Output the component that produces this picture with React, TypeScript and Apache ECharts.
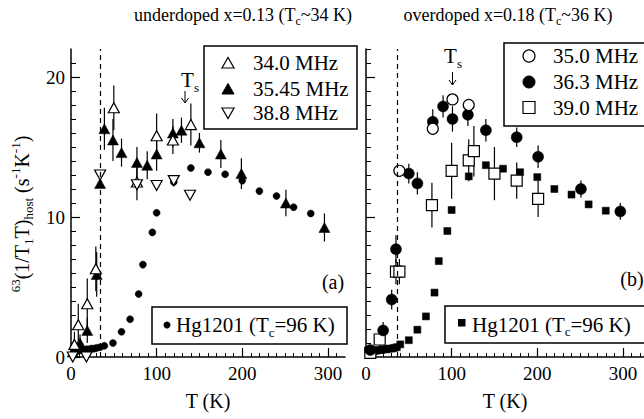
import React, { useEffect, useRef } from "react";
import * as echarts from "echarts";

const FONT = "Liberation Serif";

// ---------- Panel (a): underdoped x=0.13 ----------
// Hg1201 host reference [T, y]
const hgA: number[][] = [
  [3, 0.3], [6, 0.4], [9, 0.45], [12, 0.5], [15, 0.5], [18, 0.55], [21, 0.55], [24, 0.6],
  [27, 0.6], [30, 0.65], [34, 0.7], [39, 0.8], [49, 1.0], [59, 1.8], [69, 2.7], [79, 4.5],
  [84, 6.6], [95, 8.9], [100, 10.3], [120, 12.5], [140, 13.5], [160, 13.2], [180, 13.05],
  [200, 12.6], [220, 11.85], [240, 11.5], [260, 10.7], [280, 10.25],
];
// 34.0 MHz [T, y, err]
const a340: number[][] = [
  [4, 0.9, 0.9], [8.5, 2.3, 1.5], [19, 3.8, 1.8], [29, 6.3, 1.6], [50, 17.8, 1.6],
  [77, 12.5, 1.3], [100, 15.8, 1.6], [119, 15.5, 1.0], [140, 16.6, 1.5],
];
// 35.45 MHz [T, y, err]
const a3545: number[][] = [
  [2, 0.35, 0], [10.5, 1.0, 0.6], [19, 1.9, 0.9], [30, 5.9, 1.6], [34, 12.4, 0],
  [39, 16.3, 1.5], [49, 15.5, 1.5], [59, 14.6, 1.0], [77, 13.9, 1.1], [89, 13.7, 1.0],
  [100, 14.5, 1.2], [119, 16.0, 1.0], [129, 16.2, 0.9], [150, 15.3, 0.7], [175, 14.5, 1.0],
  [199, 13.1, 1.1], [251, 11.0, 0.95], [296, 9.25, 1.0],
];
// 38.8 MHz [T, y, err]
const a388: number[][] = [
  [2, 0.0, 0], [18, 0.0, 0], [34, 13.0, 0], [77, 12.3, 0], [100, 12.25, 0],
  [120, 12.6, 0], [139, 11.55, 0],
];

// ---------- Panel (b): overdoped x=0.18 ----------
const hgB: number[][] = [
  [3, 0.3], [6, 0.35], [9, 0.4], [12, 0.45], [15, 0.5], [18, 0.5], [21, 0.55], [24, 0.55],
  [27, 0.6], [30, 0.6], [33, 0.65], [36, 0.7], [40, 0.9], [50, 1.2], [60, 1.95], [70, 2.9],
  [80, 4.6], [85, 6.85], [95, 9.0], [100, 10.5], [120, 12.9], [140, 13.7], [160, 13.45],
  [180, 13.2], [200, 12.85], [220, 12.0], [240, 11.6], [260, 10.9], [280, 10.45],
];
// 35.0 MHz [T, y, err]
const b350: number[][] = [
  [39, 13.3, 0], [78, 16.3, 0], [101, 18.4, 0], [120, 18.0, 0],
];
// 36.3 MHz [T, y, err]
const b363: number[][] = [
  [5, 0.5, 0], [20, 1.9, 0.6], [30, 4.1, 0.7], [35, 7.7, 1.0], [50, 13.1, 0.7],
  [60, 12.4, 0.8], [78, 16.8, 0.9], [90, 17.9, 0.8], [101, 17.0, 0.9], [119, 17.3, 0.8],
  [140, 16.2, 0.8], [176, 15.7, 0.7], [201, 14.3, 0.8], [251, 12.0, 0.6], [297, 10.4, 0.6],
];
// 39.0 MHz [T, y, err]
const b390: number[][] = [
  [5, 0.3, 0], [16, 1.25, 0.6], [35, 6.1, 0.9], [39, 6.1, 0.9], [77, 10.85, 1.6],
  [100, 13.3, 2.0], [120, 14.05, 1.5], [126, 14.7, 1.8], [150, 13.1, 1.9],
  [176, 12.6, 1.3], [201, 11.3, 1.3],
];

const tcA = 34;
const tcB = 36;
const xTicksMajor = 100;
const yTicksMajor = 10;

const openStyle = { color: "#fff", borderColor: "#000", borderWidth: 1.2, opacity: 1 };
const fillStyle = { color: "#000", borderColor: "#000", borderWidth: 0.5, opacity: 1 };

function mainX(gridIndex: number, max: number) {
  return {
    type: "value", gridIndex, min: 0, max, interval: 10,
    axisLine: { show: true, onZero: false, lineStyle: { color: "#000", width: 1.5 } },
    axisTick: { show: true, inside: true, length: 4, lineStyle: { color: "#000", width: 1 } },
    axisLabel: {
      show: true, color: "#000", fontFamily: FONT, fontSize: 19, margin: 7,
      showMaxLabel: false,
      formatter: (v: number) => (Math.round(v) % xTicksMajor === 0 ? String(Math.round(v)) : ""),
    },
    splitLine: { show: false },
    name: "T (K)", nameLocation: "middle", nameGap: 34,
    nameTextStyle: { color: "#000", fontFamily: FONT, fontSize: 20 },
  };
}
function mainY(gridIndex: number, showLabel: boolean) {
  return {
    type: "value", gridIndex, min: 0, max: 22, interval: 1,
    axisLine: { show: true, onZero: false, lineStyle: { color: "#000", width: 1.5 } },
    axisTick: { show: true, inside: true, length: 5, lineStyle: { color: "#000", width: 1 } },
    axisLabel: {
      show: showLabel, color: "#000", fontFamily: FONT, fontSize: 19, margin: 6,
      showMaxLabel: false,
      formatter: (v: number) => (Math.round(v) % yTicksMajor === 0 ? String(Math.round(v)) : ""),
    },
    splitLine: { show: false },
  };
}
function majX(gridIndex: number) {
  return {
    type: "value", gridIndex, min: 0, max: 300, interval: 100,
    axisLine: { show: false }, axisLabel: { show: false }, splitLine: { show: false },
    axisTick: { show: true, inside: true, length: 9, lineStyle: { color: "#000", width: 1.2 } },
  };
}
function majY(gridIndex: number) {
  return {
    type: "value", gridIndex, min: 0, max: 20, interval: 10,
    axisLine: { show: false }, axisLabel: { show: false }, splitLine: { show: false },
    axisTick: { show: true, inside: true, length: 9, lineStyle: { color: "#000", width: 1.2 } },
  };
}

function scatter(name: string, data: number[][], idx: number, symbol: string, size: any, style: any, rotate = 0) {
  return {
    type: "scatter", name, xAxisIndex: idx, yAxisIndex: idx, silent: true, z: 3,
    data: data.map((d) => [d[0], d[1]]),
    symbol, symbolSize: size, symbolRotate: rotate, itemStyle: style,
  };
}
function errors(idx: number, sets: number[][][]) {
  const data: number[][] = [];
  sets.forEach((s) => s.forEach((d) => { if (d[2] > 0) data.push([d[0], d[1] - d[2], d[1] + d[2]]); }));
  return {
    type: "custom", xAxisIndex: idx, yAxisIndex: idx, silent: true, z: 2,
    data,
    encode: { x: 0, y: [1, 2] },
    renderItem: (params: any, api: any) => {
      const x = api.value(0);
      const lo = api.coord([x, api.value(1)]);
      const hi = api.coord([x, api.value(2)]);
      return {
        type: "line",
        shape: { x1: lo[0], y1: lo[1], x2: hi[0], y2: hi[1] },
        style: { stroke: "#000", lineWidth: 1.2 },
      };
    },
  };
}
function dashed(x: number) {
  return {
    silent: true, symbol: ["none", "none"], label: { show: false },
    lineStyle: { color: "#000", type: [5, 4], width: 1.2, opacity: 1 },
    data: [{ xAxis: x }],
  };
}

const richBase = (size: number, sub: number) => ({
  n: { fontFamily: FONT, fontSize: size, lineHeight: size + 6 },
  s: { fontFamily: FONT, fontSize: sub, lineHeight: sub, verticalAlign: "bottom" },
  p: { fontFamily: FONT, fontSize: sub, lineHeight: sub, verticalAlign: "top" },
});

function txt(x: number, y: number, text: string, size: number, sub: number, align = "left", extra: any = {}) {
  return {
    type: "text", x, y, z: 20, ...extra,
    style: { text, rich: richBase(size, sub), fill: "#000", align, verticalAlign: "middle", fontFamily: FONT, fontSize: size },
  };
}
const box = (x: number, y: number, w: number, h: number) => ({
  type: "rect", z: 15, shape: { x, y, width: w, height: h },
  style: { fill: "#fff", stroke: "#000", lineWidth: 1.5 },
});
const arrow = (x: number, y1: number, y2: number) => [
  { type: "line", z: 20, shape: { x1: x, y1, x2: x, y2 }, style: { stroke: "#000", lineWidth: 1 } },
  { type: "polyline", z: 20, shape: { points: [[x - 3.5, y2 - 5], [x, y2], [x + 3.5, y2 - 5]] }, style: { stroke: "#000", lineWidth: 1, fill: null } },
];

export default function App() {
  const ref = useRef<HTMLDivElement>(null);
  useEffect(() => {
    const chart = echarts.init(ref.current!, null, { renderer: "svg" });
    const option: any = {
      animation: false,
      backgroundColor: "#fff",
      textStyle: { fontFamily: FONT },
      grid: [
        { left: 71, top: 49, width: 274, height: 308 },
        { left: 366, top: 49, width: 278, height: 308 },
        { left: 71, top: 77, width: 256.875, height: 280 },
        { left: 366, top: 77, width: 256.875, height: 280 },
      ],
      xAxis: [mainX(0, 320), mainX(1, 324.67), majX(2), majX(3)],
      yAxis: [mainY(0, true), mainY(1, false), majY(2), majY(3)],
      series: [
        errors(0, [a340, a3545, a388]),
        { ...scatter("Hg1201 a", hgA, 0, "circle", 7, fillStyle), markLine: dashed(tcA) },
        scatter("35.45 MHz", a3545, 0, "triangle", [11, 10], fillStyle),
        scatter("34.0 MHz", a340, 0, "triangle", [11, 10], openStyle),
        scatter("38.8 MHz", a388, 0, "triangle", [11, 10], openStyle, 180),
        errors(1, [b350, b363, b390]),
        { ...scatter("Hg1201 b", hgB, 1, "rect", 7, fillStyle), markLine: dashed(tcB) },
        scatter("39.0 MHz", b390, 1, "rect", 11, openStyle),
        scatter("36.3 MHz", b363, 1, "circle", 11, fillStyle),
        scatter("35.0 MHz", b350, 1, "circle", 11, openStyle),
      ],
      graphic: {
        elements: [
          txt(243, 15, "{n|underdoped x=0.13 (T}{s|c}{n|~34 K)}", 18, 12, "center"),
          txt(508, 15, "{n|overdoped x=0.18 (T}{s|c}{n|~36 K)}", 18, 12, "center"),
          txt(22, 214, "{p|63}{n|(1/T}{s|1}{n|T)}{s|host}{n| (s}{p|-1}{n|K}{p|-1}{n|)}", 20, 13, "center", { rotation: Math.PI / 2 }),
          // legend (a)
          box(204, 46, 153, 83),
          { type: "polygon", z: 20, shape: { points: [[228, 57.5], [222, 68], [234, 68]] }, style: { fill: "#fff", stroke: "#000", lineWidth: 1.2 } },
          { type: "polygon", z: 20, shape: { points: [[228, 83.5], [222, 94], [234, 94]] }, style: { fill: "#000", stroke: "#000", lineWidth: 1 } },
          { type: "polygon", z: 20, shape: { points: [[222, 108], [234, 108], [228, 118.5]] }, style: { fill: "#fff", stroke: "#000", lineWidth: 1.2 } },
          txt(253, 63, "{n|34.0 MHz}", 21, 13),
          txt(253, 89, "{n|35.45 MHz}", 21, 13),
          txt(253, 113, "{n|38.8 MHz}", 21, 13),
          // legend (b)
          box(504, 43, 160, 83),
          { type: "circle", z: 20, shape: { cx: 529, cy: 56, r: 6 }, style: { fill: "#fff", stroke: "#000", lineWidth: 1.2 } },
          { type: "circle", z: 20, shape: { cx: 529, cy: 82, r: 6 }, style: { fill: "#000", stroke: "#000", lineWidth: 1 } },
          { type: "rect", z: 20, shape: { x: 523, y: 101.5, width: 12, height: 12 }, style: { fill: "#fff", stroke: "#000", lineWidth: 1.2 } },
          txt(553, 56, "{n|35.0 MHz}", 21, 13),
          txt(553, 82, "{n|36.3 MHz}", 21, 13),
          txt(553, 107.5, "{n|39.0 MHz}", 21, 13),
          // host legends
          box(152, 307, 195, 37),
          { type: "circle", z: 20, shape: { cx: 167, cy: 325, r: 3.5 }, style: { fill: "#000" } },
          txt(176, 325, "{n|Hg1201 (T}{s|c}{n|=96 K)}", 21, 13),
          box(445, 306, 210, 37),
          { type: "rect", z: 20, shape: { x: 458, y: 319, width: 7.5, height: 7.5 }, style: { fill: "#000" } },
          txt(472, 324.5, "{n|Hg1201 (T}{s|c}{n|=96 K)}", 21, 13),
          // panel tags
          txt(333, 282, "{n|(a)}", 20, 13, "center"),
          txt(632, 279, "{n|(b)}", 20, 13, "center"),
          // Ts markers
          txt(190, 80, "{n|T}{s|s}", 21, 13, "center"),
          ...arrow(185, 91, 103),
          txt(453, 56, "{n|T}{s|s}", 21, 13, "center"),
          ...arrow(452.5, 72, 85),
        ],
      },
    };
    chart.setOption(option);
    return () => chart.dispose();
  }, []);
  return <div ref={ref} style={{ position: "fixed", left: 0, top: 0, width: 644, height: 419 }} />;
}
